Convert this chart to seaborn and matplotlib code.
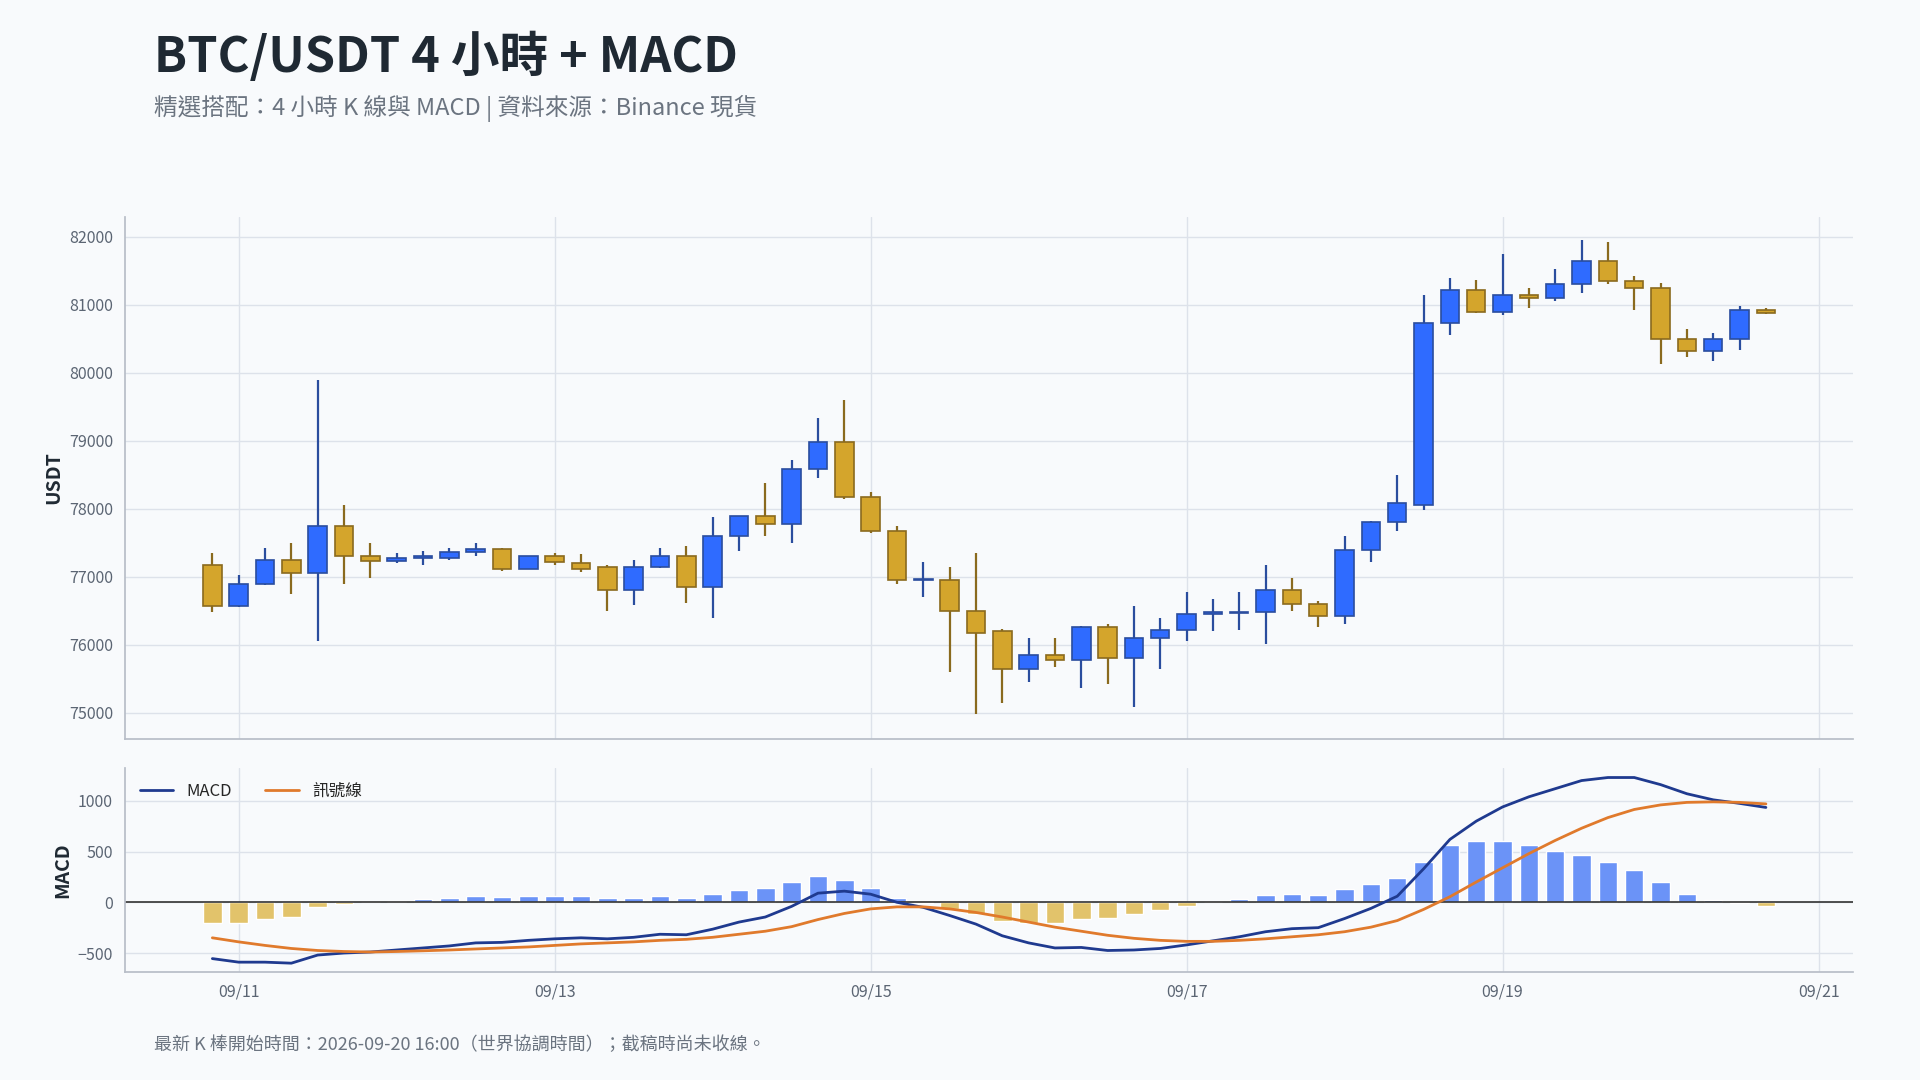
import numpy as np
import pandas as pd
import seaborn as sns
import matplotlib.pyplot as plt

# 4h candles, 09/10 20:00 -> 09/20 16:00 (hours relative to 09/11 00:00)
hours = [-4 + 4 * i for i in range(60)]
opens = [77180, 76570, 76900, 77250, 77050, 77750, 77300, 77230, 77280, 77280,
         77370, 77410, 77120, 77300, 77200, 77140, 76800, 77150, 77300, 76850,
         77600, 77900, 77780, 78580, 78980, 78180, 77680, 76950, 76950, 76500,
         76200, 75650, 75850, 75780, 76270, 75800, 76100, 76220, 76450, 76470,
         76490, 76800, 76600, 76420, 77400, 77800, 78050, 80730, 81220, 80900,
         81150, 81100, 81300, 81650, 81350, 81250, 80500, 80320, 80500, 80930]
closes = [76570, 76900, 77250, 77050, 77750, 77300, 77230, 77280, 77300, 77370,
          77410, 77120, 77300, 77220, 77120, 76800, 77150, 77300, 76850, 77600,
          77900, 77780, 78580, 78980, 78180, 77680, 76950, 76960, 76500, 76180,
          75650, 75850, 75780, 76270, 75800, 76100, 76220, 76450, 76480, 76490,
          76800, 76600, 76420, 77400, 77800, 78080, 80730, 81220, 80900, 81150,
          81100, 81300, 81650, 81350, 81250, 80500, 80320, 80500, 80930, 80880]
highs = [77350, 77020, 77430, 77500, 79900, 78050, 77500, 77350, 77380, 77420,
         77500, 77420, 77300, 77350, 77330, 77180, 77250, 77420, 77450, 77880,
         77900, 78380, 78720, 79330, 79600, 78250, 77750, 77220, 77150, 77350,
         76230, 76100, 76100, 76280, 76300, 76570, 76400, 76780, 76680, 76770,
         77180, 76980, 76650, 77600, 77820, 78500, 81150, 81400, 81370, 81740,
         81250, 81530, 81950, 81920, 81430, 81320, 80650, 80580, 80980, 80950]
lows = [76480, 76560, 76880, 76750, 76050, 76900, 76980, 77200, 77180, 77250,
        77300, 77080, 77120, 77180, 77070, 76500, 76580, 77130, 76620, 76400,
        77380, 77600, 77500, 78450, 78150, 77650, 76900, 76700, 75600, 74980,
        75150, 75450, 75680, 75370, 75420, 75080, 75650, 76050, 76200, 76220,
        76020, 76500, 76270, 76300, 77220, 77680, 77980, 80550, 80880, 80850,
        80950, 81050, 81180, 81300, 80920, 80130, 80230, 80180, 80330, 80860]
macd = [-555, -590, -590, -600, -520, -500, -490, -470, -450, -430,
        -400, -395, -375, -360, -350, -360, -345, -315, -320, -265,
        -195, -145, -40, 90, 110, 80, 0, -50, -130, -215,
        -330, -400, -450, -445, -475, -470, -455, -420, -380, -340,
        -290, -260, -250, -160, -60, 60, 330, 620, 800, 940,
        1040, 1120, 1200, 1230, 1230, 1160, 1070, 1010, 975, 935]
signal = [-350, -390, -425, -455, -475, -485, -490, -485, -478, -470,
          -460, -450, -440, -425, -410, -400, -390, -375, -365, -345,
          -315, -285, -240, -170, -110, -65, -45, -45, -65, -100,
          -145, -195, -245, -285, -325, -355, -375, -385, -385, -375,
          -360, -340, -320, -290, -245, -180, -70, 55, 200, 340,
          480, 610, 730, 835, 915, 960, 985, 990, 985, 970]
tick_hours = [0, 48, 96, 144, 192, 240]
tick_labels = ['09/11', '09/13', '09/15', '09/17', '09/19', '09/21']

df = pd.DataFrame({'h': hours, 'o': opens, 'c': closes, 'hi': highs, 'lo': lows,
                   'macd': macd, 'signal': signal})
df['hist'] = df['macd'] - df['signal']
up = df['c'] >= df['o']

sns.set_theme(style='whitegrid')
plt.rcParams['font.family'] = ['Noto Sans CJK TC', 'DejaVu Sans']
bg = '#f8fafc'
fig = plt.figure(figsize=(19.2, 10.8), dpi=100, facecolor=bg)
ax = fig.add_axes([0.065, 0.316, 0.900, 0.483], facecolor=bg)
ax2 = fig.add_axes([0.065, 0.100, 0.900, 0.189], facecolor=bg)

blue, blue_e = '#2f6bff', '#2a4d9e'
gold, gold_e = '#d4a52c', '#8a6a1e'

for mask, fc, ec in [(up, blue, blue_e), (~up, gold, gold_e)]:
    d = df[mask]
    ax.vlines(d['h'], d['lo'], d['hi'], color=ec, lw=1.6, zorder=2)
    bottom = np.minimum(d['o'], d['c'])
    height = np.maximum(np.abs(d['c'] - d['o']), 15)
    ax.bar(d['h'], height, bottom=bottom, width=2.8, color=fc, edgecolor=ec,
           linewidth=1.2, zorder=3)

hist_colors = np.where(df['hist'] >= 0, '#6b93f7', '#e2c36b')
ax2.bar(df['h'], df['hist'], width=2.8, color=hist_colors, zorder=2)
sns.lineplot(data=df, x='h', y='macd', ax=ax2, color='#1f3a8f', lw=2, label='MACD', zorder=3)
sns.lineplot(data=df, x='h', y='signal', ax=ax2, color='#e07a2c', lw=2, label='訊號線', zorder=3)
ax2.axhline(0, color='#333333', lw=1.2, zorder=2)

for a in (ax, ax2):
    a.set_xlim(-17.3, 245.2)
    a.set_xticks(tick_hours)
    a.grid(True, color='#dde2ea', lw=1)
    for s in ['top', 'right']:
        a.spines[s].set_visible(False)
    for s in ['left', 'bottom']:
        a.spines[s].set_color('#b8bec8')
    a.tick_params(colors='#5b6573', labelsize=11.5, length=5, color='#b8bec8')
ax.set_xticklabels([])
ax2.set_xticklabels(tick_labels)
ax.set_ylim(74620, 82290)
ax.set_yticks(range(75000, 82001, 1000))
ax2.set_ylim(-687, 1325)
ax2.set_yticks([-500, 0, 500, 1000])
ax.set_ylabel('USDT', fontsize=14, fontweight='bold', color='#1f2933')
ax2.set_ylabel('MACD', fontsize=14, fontweight='bold', color='#1f2933')
ax2.set_xlabel('')
ax2.legend(loc='upper left', ncol=2, frameon=False, fontsize=12)

fig.text(0.080, 0.947, 'BTC/USDT 4 小時 + MACD', fontsize=35, fontweight='semibold',
         color='#1f2933', va='center')
fig.text(0.080, 0.900, '精選搭配：4 小時 K 線與 MACD | 資料來源：Binance 現貨', fontsize=17,
         color='#6b7480', va='center')
fig.text(0.080, 0.032, '最新 K 棒開始時間：2026-09-20 16:00（世界協調時間）；截稿時尚未收線。',
         fontsize=13, color='#6b7480', va='center')

fig.savefig('out.png', dpi=100, facecolor=bg)
